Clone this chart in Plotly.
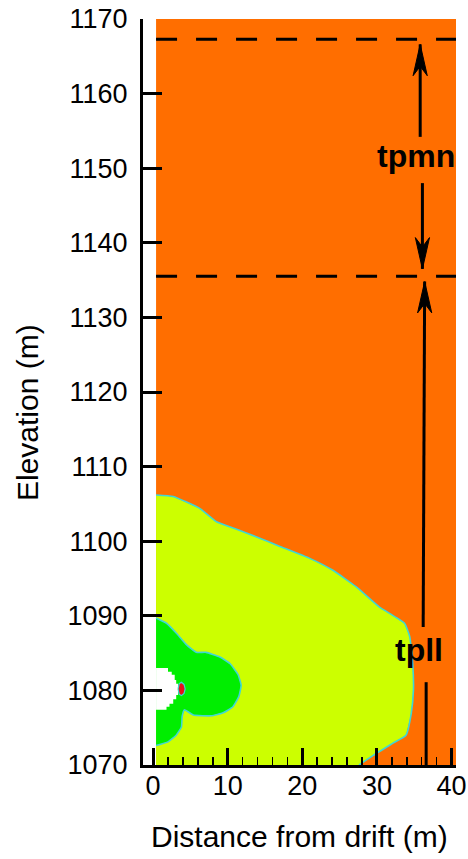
import plotly.graph_objects as go

# ---- data (metres) ----
DOMAIN_X = [0.4, 40.6]
DOMAIN_Y = [1070, 1170]

# yellow-green zone boundary (from left edge, around, to bottom edge)
YG_X = [0.4, 2.7, 6.25, 8.5, 11.2, 13.8, 17.0, 21.0, 24.1, 27.2, 30.3, 33.7, 34.4, 34.8, 34.9, 34.6, 33.9, 32.1, 29.5, 27.9, 27.6]
YG_Y = [1106.2, 1106.0, 1104.4, 1102.6, 1101.6, 1100.6, 1099.3, 1097.7, 1096.1, 1093.9, 1091.2, 1089.0, 1087.2, 1083.6, 1080.1, 1076.9, 1074.0, 1072.9, 1071.3, 1070.2, 1070.0]

# green zone boundary
GR_X = [0.4, 1.8, 3.1, 4.5, 5.8, 7.1, 8.9, 10.3, 11.4, 11.8, 11.5, 10.7, 9.4, 7.8, 5.4, 4.2, 3.9, 3.8, 3.1, 2.0, 0.4]
GR_Y = [1089.7, 1089.0, 1087.7, 1086.1, 1085.1, 1085.1, 1084.5, 1083.6, 1082.1, 1080.7, 1079.2, 1077.8, 1077.0, 1076.6, 1076.7, 1077.4, 1076.5, 1075.1, 1074.0, 1073.1, 1072.6]

# drift opening (white, stair-stepped grid cells)
DR_X = [0.4, 2.0, 2.0, 2.5, 2.5, 2.9, 2.9, 3.1, 3.1, 3.35, 3.35, 3.1, 3.1, 2.7, 2.7, 2.2, 2.2, 1.8, 1.8, 0.4]
DR_Y = [1083.0, 1083.0, 1082.5, 1082.5, 1082.1, 1082.1, 1081.4, 1081.4, 1080.9, 1080.9, 1079.4, 1079.4, 1078.8, 1078.8, 1078.2, 1078.2, 1077.8, 1077.8, 1077.4, 1077.4]

# small red zone next to the drift
RD_X = [3.35, 3.5, 3.8, 4.15, 4.3, 4.15, 3.8, 3.5, 3.35]
RD_Y = [1080.2, 1080.9, 1081.1, 1080.8, 1080.2, 1079.6, 1079.3, 1079.5, 1080.2]

# unit contacts (dashed)
CONTACTS = [1167.3, 1135.5]

# arrows: (x_tail, y_tail, x_tip, y_tip)
ARROWS = [
    (35.8, 1154.2, 35.8, 1166.6),
    (36.1, 1148.0, 36.1, 1136.5),
    (36.2, 1088.5, 36.4, 1134.8),
]
SEGMENTS = [(36.6, 1081.1, 36.6, 1070.0)]

LABELS = ["tpmn", "tpll"]
LABEL_X = [35.2, 35.7]
LABEL_Y = [1151.7, 1085.4]

X_TICKS = [0, 10, 20, 30, 40]
Y_TICKS = list(range(1070, 1171, 10))

X_TITLE = "Distance from drift (m)"
Y_TITLE = "Elevation (m)"

ORANGE = "#FF6E00"
YELLOW = "#CCFF00"
GREEN = "#00EE00"
RED = "#E8101A"
CYAN = "#3FD6D6"
FONT = "Liberation Sans"

fig = go.Figure()

# background zone
fig.add_trace(go.Scatter(
    x=[DOMAIN_X[0], DOMAIN_X[1], DOMAIN_X[1], DOMAIN_X[0], DOMAIN_X[0]],
    y=[DOMAIN_Y[0], DOMAIN_Y[0], DOMAIN_Y[1], DOMAIN_Y[1], DOMAIN_Y[0]],
    fill="toself", fillcolor=ORANGE, mode="lines", line=dict(width=0),
    hoverinfo="skip"))

def zone(xs, ys, color, close_x=None, close_y=None):
    px = list(xs) + ([close_x] if close_x is not None else [])
    py = list(ys) + ([close_y] if close_y is not None else [])
    fig.add_trace(go.Scatter(x=px, y=py, fill="toself", fillcolor=color,
                             mode="lines", line=dict(width=0), hoverinfo="skip"))
    fig.add_trace(go.Scatter(x=xs, y=ys, mode="lines", line_shape="spline",
                             line=dict(color=CYAN, width=1.6, smoothing=0.4),
                             hoverinfo="skip"))

zone(YG_X, YG_Y, YELLOW, DOMAIN_X[0], DOMAIN_Y[0])
zone(GR_X, GR_Y, GREEN)
fig.add_trace(go.Scatter(x=DR_X, y=DR_Y, fill="toself", fillcolor="white",
                         mode="lines", line=dict(width=0), hoverinfo="skip"))
fig.add_trace(go.Scatter(x=RD_X, y=RD_Y, fill="toself", fillcolor=RED,
                         mode="lines", line=dict(color=CYAN, width=1.2), hoverinfo="skip"))

# dashed contacts
for yc in CONTACTS:
    fig.add_trace(go.Scatter(x=[DOMAIN_X[0], DOMAIN_X[1]], y=[yc, yc], mode="lines",
                             line=dict(color="black", width=3, dash="21px,19px"),
                             hoverinfo="skip"))

# arrows
HEAD_L = 4.2
HEAD_W = 0.95
for (x0, y0, x1, y1) in ARROWS + SEGMENTS:
    fig.add_trace(go.Scatter(x=[x0, x1], y=[y0, y1], mode="lines",
                             line=dict(color="black", width=3), hoverinfo="skip"))
for (x0, y0, x1, y1) in ARROWS:
    s = 1 if y1 > y0 else -1
    hx = [x1, x1 - HEAD_W, x1, x1 + HEAD_W, x1]
    hy = [y1, y1 - s * HEAD_L, y1 - s * HEAD_L * 0.7, y1 - s * HEAD_L, y1]
    fig.add_trace(go.Scatter(x=hx, y=hy, fill="toself", fillcolor="black",
                             mode="lines", line=dict(color="black", width=1),
                             hoverinfo="skip"))

for t, lx, ly in zip(LABELS, LABEL_X, LABEL_Y):
    fig.add_annotation(x=lx, y=ly, text=f"<b>{t}</b>", showarrow=False,
                       font=dict(size=32, color="black", family=FONT))

# axis titles
fig.add_annotation(xref="paper", yref="paper", x=0.5, y=0, yshift=-71,
                   xanchor="center", yanchor="middle", showarrow=False,
                   text=X_TITLE, font=dict(size=30, color="black", family=FONT))
fig.add_annotation(xref="paper", yref="paper", x=0, y=0.4718, xshift=-116,
                   xanchor="center", yanchor="middle", showarrow=False, textangle=-90,
                   text=Y_TITLE, font=dict(size=30, color="black", family=FONT))

fig.update_layout(
    width=468, height=859, showlegend=False,
    margin=dict(l=143, r=11.5, t=19, b=94),
    plot_bgcolor="white", paper_bgcolor="white",
    font=dict(family=FONT, size=27, color="black"),
)
fig.update_xaxes(
    range=[-1.35, 40.6], tickvals=X_TICKS, ticks="inside", ticklen=17, tickwidth=3,
    tickcolor="black", showline=True, linewidth=3, linecolor="black",
    showgrid=False, zeroline=False, automargin=False, ticklabeloverflow="allow",
    minor=dict(ticks="inside", dtick=2, tick0=0, ticklen=8, tickwidth=1.5, tickcolor="black", showgrid=False),
    tickfont=dict(size=27), ticklabelstandoff=-5,
)
fig.update_yaxes(
    range=[1070, 1170], tickvals=Y_TICKS, ticks="inside", ticklen=19, tickwidth=3,
    tickcolor="black", showline=True, linewidth=3, linecolor="black",
    showgrid=False, zeroline=False, automargin=False, ticklabeloverflow="allow",
    tickfont=dict(size=27), ticklabelstandoff=7,
)

# remove the default page margin so the figure sits at the window origin
fig.write_html("out.html", config={"displayModeBar": False, "staticPlot": True},
               post_script="document.body.style.margin='0px';document.body.style.overflow='hidden';")
